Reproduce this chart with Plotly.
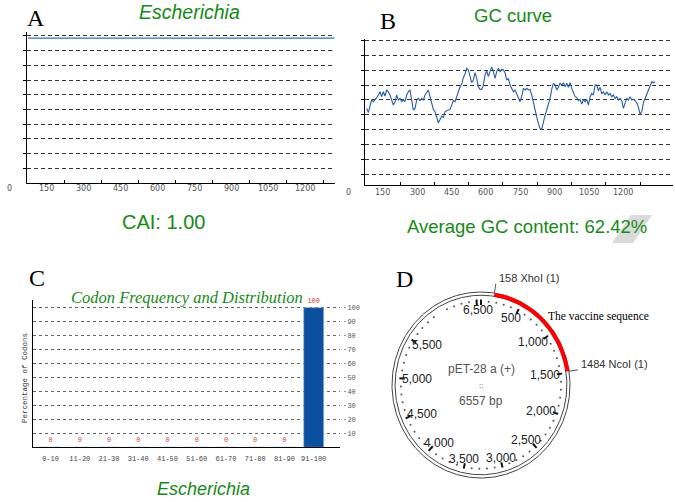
import math
import plotly.graph_objects as go

W, H = 675, 502


def fx(px):
    return px / W


def fy(py):
    return 1 - py / H


# ---------------- data ----------------
cai_positions = [75, 1320]
cai_values = [0.985, 0.985]
cai_score = "1.00"

gc_first_window = 79
gc_window_step = 7.29
gc_values = [
    54.3, 51.4, 55.9, 59.9, 58.8, 59.9, 61.5, 63.3, 65.5, 62.2,
    65.5, 62.6, 66.7, 65.5, 63.3, 59.9, 56.5, 58.8, 63.3, 59.9,
    61.0, 58.8, 59.9, 58.8, 63.3, 65.5, 66.7, 59.9, 53.2, 54.3,
    59.9, 61.0, 59.5, 61.0, 59.9, 63.3, 65.5, 66.7, 62.2, 57.7,
    53.6, 52.0, 48.6, 44.6, 46.8, 49.1, 48.2, 52.0, 52.7, 53.2,
    53.6, 56.5, 59.5, 58.8, 62.6, 66.2, 68.9, 70.7, 75.2, 77.5,
    81.3, 80.2, 75.7, 71.6, 73.4, 78.4, 74.5, 68.9, 67.1, 67.1,
    70.0, 76.8, 79.7, 75.7, 79.1, 82.0, 79.1, 74.5, 79.1, 81.3,
    79.1, 80.6, 80.2, 78.4, 73.4, 74.5, 70.0, 67.8, 65.5, 66.7,
    64.4, 62.2, 58.8, 62.2, 67.8, 66.7, 67.8, 66.7, 67.1, 63.3,
    57.7, 53.2, 48.6, 44.1, 40.8, 40.1, 45.3, 49.8, 53.2, 57.2,
    61.0, 67.1, 71.2, 70.0, 66.7, 68.5, 71.2, 70.0, 71.6, 68.9,
    71.2, 68.5, 71.6, 67.8, 64.9, 62.2, 61.7, 59.5, 60.4, 57.2,
    60.4, 58.8, 60.4, 56.5, 62.2, 64.4, 63.3, 70.0, 70.0, 66.2,
    68.5, 64.0, 65.5, 63.3, 65.5, 63.3, 64.4, 62.2, 63.3, 61.0,
    62.2, 59.9, 61.0, 59.5, 54.3, 57.7, 61.0, 59.9, 62.2, 59.9,
    60.4, 59.5, 58.1, 55.0, 50.5, 52.0, 58.1, 61.0, 64.0, 67.1,
    70.7, 72.3, 71.6, 72.3,
]
gc_average = "62.42"

seq_tick_labels = [0, 150, 300, 450, 600, 750, 900, 1050, 1200]
seq_tick_marks = [225, 375, 525, 675, 825, 975, 1125, 1275]
cai_grid = [0.1, 0.2, 0.3, 0.4, 0.5, 0.6, 0.7, 0.8, 0.9, 1.0]
pct_grid = [10, 20, 30, 40, 50, 60, 70, 80, 90, 100]

codon_bins = ["0-10", "11-20", "21-30", "31-40", "41-50",
              "51-60", "61-70", "71-80", "81-90", "91-100"]
codon_pct = [0, 0, 0, 0, 0, 0, 0, 0, 0, 100]

organism = "Escherichia"
plasmid_name = "pET-28 a (+)"
plasmid_bp = 6557
insert_start = 158
insert_end = 1484
site_names = ["158 XhoI (1)", "1484 NcoI (1)"]
site_bp = [158, 1484]
map_major = [0, 500, 1000, 1500, 2000, 2500, 3000, 3500, 4000, 4500, 5000, 5500, 6500]
map_labelled = [500, 1000, 1500, 2000, 2500, 3000, 3500, 4000, 4500, 5000, 5500, 6500]

# ---------------- styles ----------------
GREEN = "#168a16"
GRID = "#333333"
MONO = "Liberation Mono"
SERIF = "Liberation Serif"
SANS = "Arial, Liberation Sans"

A_X = (27, 335, 71, 1322)        # px0, px1, v0, v1
B_X = (365, 673, 71.7, 1418.5)


def axis_px(geom, v):
    p0, p1, v0, v1 = geom
    return p0 + (v - v0) * (p1 - p0) / (v1 - v0)


fig = go.Figure()

# Panel A: CAI
fig.add_trace(go.Scatter(x=cai_positions, y=cai_values, mode="lines",
                         line=dict(color="#3a6db5", width=1.3),
                         xaxis="x", yaxis="y", hoverinfo="skip"))
# Panel B: GC curve
fig.add_trace(go.Scatter(x0=gc_first_window, dx=gc_window_step, y=gc_values,
                         mode="lines", line=dict(color="#2a5ca6", width=1.1),
                         xaxis="x2", yaxis="y2", hoverinfo="skip"))
# Panel C: codon distribution
fig.add_trace(go.Bar(x=codon_bins, y=codon_pct, width=0.68,
                     marker=dict(color="#0b4f9f", line=dict(color="#8fb6e0", width=0.6)),
                     text=[str(v) for v in codon_pct], textposition="outside",
                     textfont=dict(family=MONO, size=7, color="#c83c3c"),
                     cliponaxis=False, xaxis="x3", yaxis="y3", hoverinfo="skip"))
fig.add_trace(go.Scatter(x=[codon_bins[0]], y=[0], mode="markers",
                         marker=dict(opacity=0), xaxis="x3", yaxis="y5",
                         hoverinfo="skip"))

# Panel D: plasmid map
RX, RY = 89, 93


def pt(bp, f, g=None):
    g = f if g is None else g
    th = 2 * math.pi * bp / plasmid_bp
    return RX * f * math.sin(th), RY * g * math.cos(th)


ring_bp = [plasmid_bp * i / 360 for i in range(361)]
for f in (1.0, 0.965):
    xs, ys = zip(*[pt(b, f) for b in ring_bp])
    fig.add_trace(go.Scatter(x=xs, y=ys, mode="lines",
                             line=dict(color="#444444", width=1),
                             xaxis="x4", yaxis="y4", hoverinfo="skip"))

dots = [b for b in range(100, plasmid_bp, 100) if b % 500 != 0]
dx_, dy_ = zip(*[pt(b, 0.9) for b in dots])
fig.add_trace(go.Scatter(x=dx_, y=dy_, mode="markers",
                         marker=dict(color="#555555", size=2),
                         xaxis="x4", yaxis="y4", hoverinfo="skip"))
tx, ty = [], []
for b in map_major:
    a = pt(b, 0.86)
    c = pt(b, 0.92)
    tx += [a[0], c[0], None]
    ty += [a[1], c[1], None]
fig.add_trace(go.Scatter(x=tx, y=ty, mode="lines",
                         line=dict(color="#111111", width=2),
                         xaxis="x4", yaxis="y4", hoverinfo="skip"))
arc_bp = [insert_start + (insert_end - insert_start) * i / 80 for i in range(81)]
ax_, ay_ = zip(*[pt(b, 0.983) for b in arc_bp])
fig.add_trace(go.Scatter(x=ax_, y=ay_, mode="lines",
                         line=dict(color="#ff0000", width=4),
                         xaxis="x4", yaxis="y4", hoverinfo="skip"))
lx, ly = [], []
for b in site_bp:
    a = pt(b, 1.0)
    c = pt(b, 1.1)
    lx += [a[0], c[0], None]
    ly += [a[1], c[1], None]
fig.add_trace(go.Scatter(x=lx, y=ly, mode="lines",
                         line=dict(color="#555555", width=1),
                         xaxis="x4", yaxis="y4", hoverinfo="skip"))

annotations = []


def ann(text, x, y, size, color="black", family=SANS, xref="paper", yref="paper",
        xanchor="center", yanchor="middle", angle=0):
    annotations.append(dict(text=text, x=x, y=y, xref=xref, yref=yref,
                            showarrow=False, xanchor=xanchor, yanchor=yanchor,
                            textangle=angle,
                            font=dict(family=family, size=size, color=color)))


# panel letters
ann("A", fx(36), fy(18), 24, family=SERIF)
ann("B", fx(388), fy(21), 24, family=SERIF)
ann("C", fx(37), fy(278), 24, family=SERIF)
ann("D", fx(404), fy(279), 24, family=SERIF)

# titles
ann("<i>" + organism + "</i>", fx(189), fy(12), 19.5, GREEN)
ann("CAI: " + cai_score, fx(163), fy(222), 20, GREEN)
ann("GC curve", fx(513), fy(16), 18.5, GREEN)
ann("Average GC content: " + gc_average + "%", fx(527), fy(226), 18.5, GREEN)
ann("<i>Codon Frequency and Distribution</i>", fx(187), fy(297), 16.5, GREEN, family=SERIF)
ann("<i>" + organism + "</i>", fx(203), fy(489), 18, GREEN)
ann("Percentage of Codons", fx(25), fy(378), 7.5, "#333333", family=MONO, angle=-90)

# sequence position labels
for v in seq_tick_labels:
    ann(str(v), fx(axis_px(A_X, v)), fy(188), 8, "#555555", family="DejaVu Sans")
    ann(str(v), fx(axis_px(B_X, v)), fy(192), 8, "#555555", family="DejaVu Sans")

# plasmid labels (spread a little more sideways near the bottom to avoid overlap)
for b in map_labelled:
    c = math.cos(2 * math.pi * b / plasmid_bp)
    hx = 0.72 + 0.2 * max(0.0, -c) ** 8
    x, y = pt(b, hx, 0.81)
    ann(f"{b:,}", x, y, 12, "#222222", xref="x4", yref="y4")
ann(plasmid_name, 0, 16, 12, "#555555", xref="x4", yref="y4")
ann("::", 0, 0, 8, "#444444", xref="x4", yref="y4")
ann(f"{plasmid_bp} bp", 0, -16, 12, "#555555", xref="x4", yref="y4")
for b, name in zip(site_bp, site_names):
    x, y = pt(b, 1.1)
    ann(name, x + 1, y - 2, 11, "#333333", xref="x4", yref="y4",
        xanchor="left", yanchor="bottom")
mx, my = pt((insert_start + insert_end) / 2, 1.08)
ann("The vaccine sequence", mx - 3, my - 2, 11.5, "black", family=SERIF,
    xref="x4", yref="y4", xanchor="left")

grid_common = dict(showgrid=True, gridcolor=GRID, gridwidth=1, griddash="4px,3px",
                   zeroline=False, showline=True, linecolor="black", linewidth=1,
                   ticks="outside", ticklen=3, tickcolor="black",
                   showticklabels=False)
xline_common = dict(showgrid=False, zeroline=False, showline=True, linecolor="black",
                    linewidth=1, ticks="inside", ticklen=3, tickcolor="black",
                    tickvals=seq_tick_marks, showticklabels=False)

fig.update_layout(
    width=W, height=H,
    margin=dict(l=0, r=0, t=0, b=0),
    paper_bgcolor="white", plot_bgcolor="rgba(0,0,0,0)",
    showlegend=False,
    xaxis=dict(domain=[fx(A_X[0]), fx(A_X[1])], range=[A_X[2], A_X[3]], anchor="y", **xline_common),
    yaxis=dict(domain=[fy(183), fy(32)], range=[0, 1.027], anchor="x",
               tickvals=cai_grid, **grid_common),
    xaxis2=dict(domain=[fx(B_X[0]), fx(B_X[1])], range=[B_X[2], B_X[3]], anchor="y2", **xline_common),
    yaxis2=dict(domain=[fy(185.3), fy(39)], range=[2.4, 101.1], anchor="x2",
                tickvals=pct_grid, **grid_common),
    xaxis3=dict(domain=[fx(33), fx(340)], range=[-0.6, 9.9], anchor="y3",
                type="category", showgrid=False, zeroline=False, showline=True,
                linecolor="black", linewidth=1, ticks="",
                tickfont=dict(family=MONO, size=7, color="#444444"),
                ticklabelstandoff=4),
    yaxis3=dict(domain=[fy(447.3), fy(300)], range=[0, 105.5], anchor="x3",
                tickvals=pct_grid, showgrid=True, gridcolor="#666666", gridwidth=1,
                griddash="3px,3px", zeroline=False, showline=True, linecolor="black",
                linewidth=1, ticks="", showticklabels=False),
    yaxis5=dict(overlaying="y3", anchor="free", position=fx(343), side="right",
                range=[0, 105.5], tickvals=pct_grid, showgrid=False, zeroline=False,
                showline=False, ticks="outside", ticklen=2, tickcolor="#999999",
                tickfont=dict(family=MONO, size=7, color="#555555")),
    xaxis4=dict(domain=[fx(380), 1.0], range=[-101, 194], visible=False, anchor="y4"),
    yaxis4=dict(domain=[fy(495), fy(262)], range=[-110, 123], visible=False, anchor="x4"),
    annotations=annotations,
    shapes=[dict(type="path", xref="paper", yref="paper", layer="below",
                 path=f"M {fx(631)} {fy(215)} L {fx(652)} {fy(215)} L {fx(633)} {fy(243)} L {fx(612)} {fy(243)} Z",
                 fillcolor="#dadada", line=dict(width=0))],
)

fig.write_html("out.html", config={"displayModeBar": False},
               post_script="document.body.style.margin='0px';")
